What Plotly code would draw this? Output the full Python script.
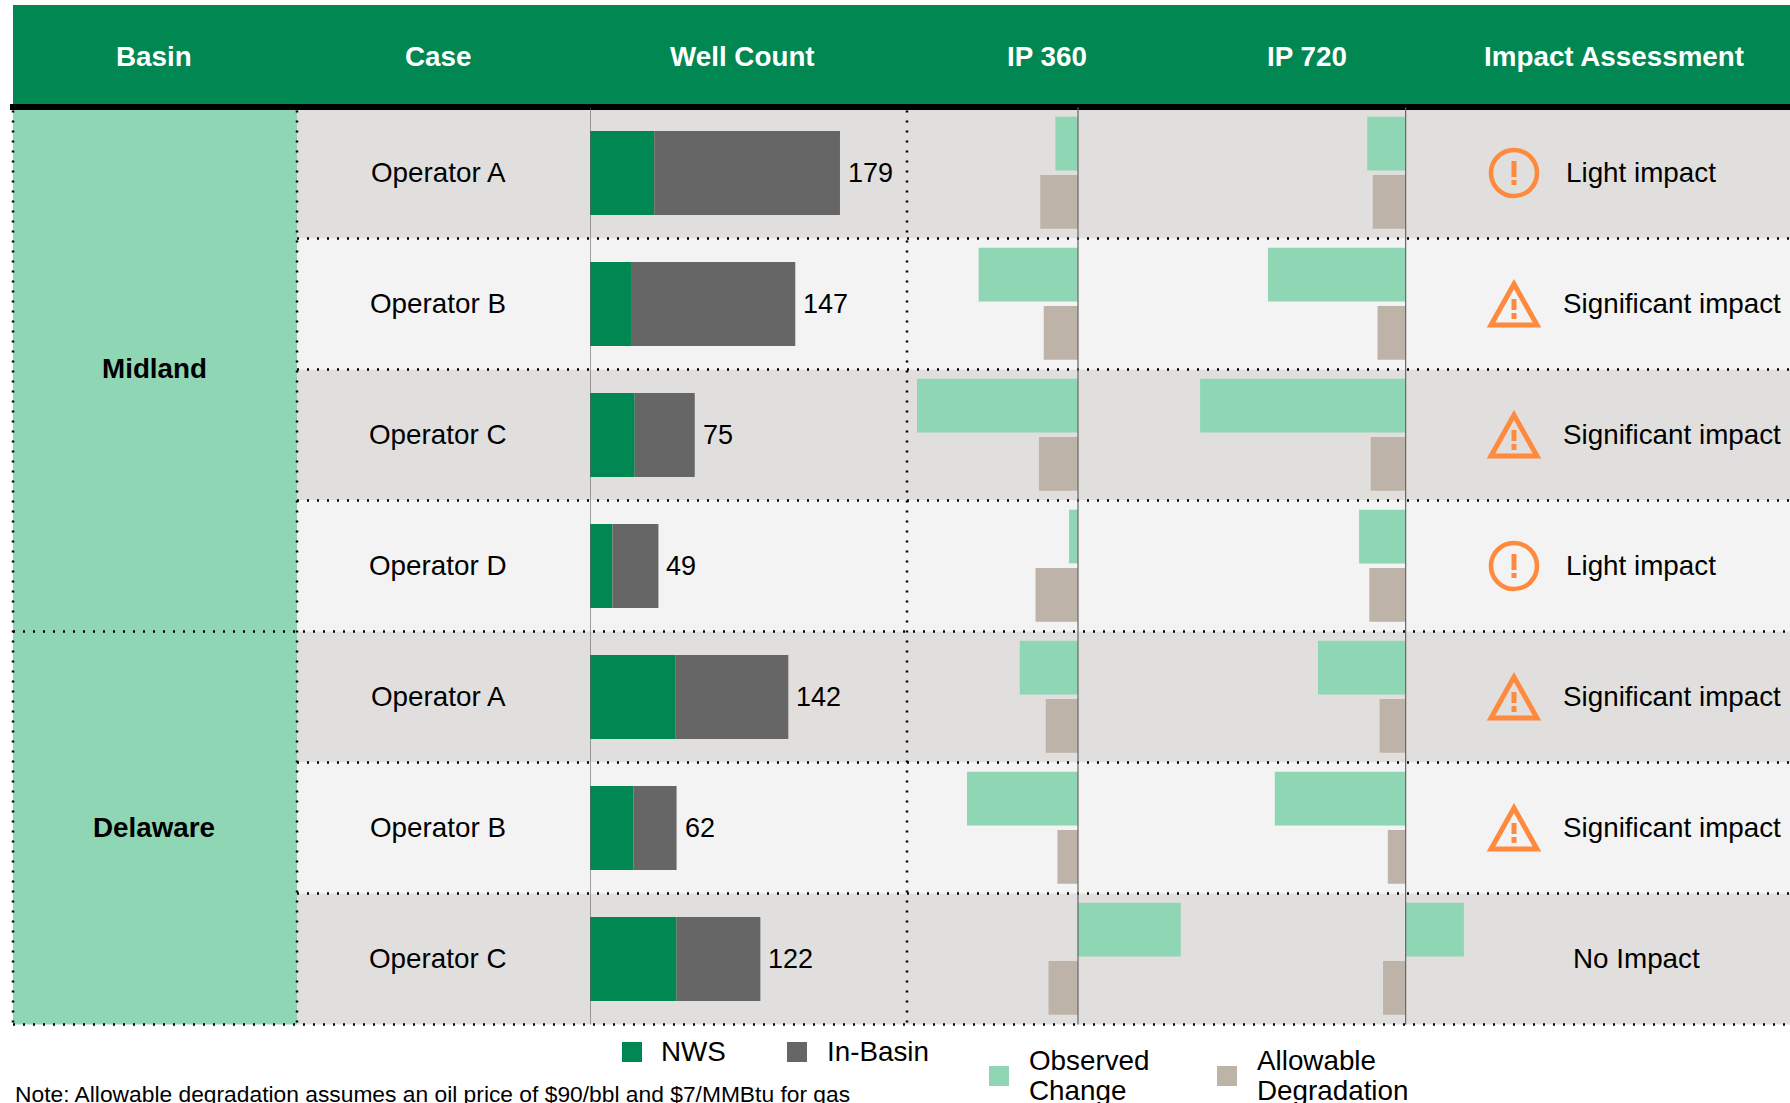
import plotly.graph_objects as go

W, H = 1790, 1103
FONT = "Liberation Sans"

# ---- data ----
headers = ["Basin", "Case", "Well Count", "IP 360", "IP 720", "Impact Assessment"]
basins = ["Midland", "Delaware"]
basin_rows = [1.5, 5.0]
cases = ["Operator A", "Operator B", "Operator C", "Operator D",
         "Operator A", "Operator B", "Operator C"]
rows = [0, 1, 2, 3, 4, 5, 6]
well_total = [179, 147, 75, 49, 142, 62, 122]
well_nws = [46, 30, 32, 16, 61, 31, 62]
well_inbasin = [133, 117, 43, 33, 81, 31, 60]
ip360_observed = [-3.3, -14.5, -23.5, -1.3, -8.5, -16.2, 15.0]
ip360_allowable = [-5.5, -5.0, -5.7, -6.2, -4.7, -3.0, -4.3]
ip720_observed = [-5.6, -20.1, -30.0, -6.8, -12.8, -19.1, 8.5]
ip720_allowable = [-4.8, -4.1, -5.1, -5.3, -3.8, -2.6, -3.3]
impact = ["Light impact", "Significant impact", "Significant impact", "Light impact",
          "Significant impact", "Significant impact", "No Impact"]

GREEN = "#008752"
MINT = "#8ED6B4"
DARK = "#666666"
TAN = "#BDB3A9"
ORANGE = "#FF8A3D"
BAND = ["#E0DFDD", "#F3F3F3"]
BODY = 27.8


def px(x):
    return x / W


def py(y):
    return 1 - y / H


TOP, BOTTOM = 107.5, 1024.5
shapes, ann = [], []


def paper_rect(x0, y0, x1, y1, color, layer="below"):
    shapes.append(dict(type="rect", xref="paper", yref="paper", x0=px(x0), x1=px(x1),
                       y0=py(y1), y1=py(y0), fillcolor=color, line_width=0, layer=layer))


def dotted(x0, y0, x1, y1):
    shapes.append(dict(type="line", xref="paper", yref="paper", x0=px(x0), x1=px(x1),
                       y0=py(y0), y1=py(y1), layer="above",
                       line=dict(color="#000000", width=2.5, dash="2px,8px")))


def label(text, xpos, ypos, size=BODY, color="#000000", bold=False, anchor="center", yref="y"):
    ann.append(dict(text=f"<b>{text}</b>" if bold else text, x=px(xpos), xref="paper",
                    y=ypos if yref == "y" else py(ypos), yref=yref, showarrow=False,
                    xanchor=anchor, yanchor="middle", borderpad=0, yshift=1 if yref == "y" else 0,
                    font=dict(family=FONT, size=size, color=color)))


# header and backgrounds
paper_rect(13, 5, W, 105, GREEN)
for r in rows:
    y0 = TOP + r * 131
    paper_rect(297, y0, W, y0 + 131, BAND[r % 2])
paper_rect(13, TOP, 297, BOTTOM, MINT)
paper_rect(10, 104, W, 110, "#000000", layer="above")

for text, c in zip(headers, [154, 438, 742, 1047, 1307, 1614]):
    label(text, c, 56, size=27.8, color="#FFFFFF", bold=True, yref="paper")

# dotted grid
for r in range(1, 8):
    y = TOP + r * 131
    dotted(13 if r in (4, 7) else 297, y, W, y)
for x in (13, 297, 907):
    dotted(x, TOP + 3, x, BOTTOM)

# axis rules at zero, drawn above the bars
for xref in ("x", "x2", "x3"):
    shapes.append(dict(type="line", xref=xref, yref="paper", x0=0, x1=0,
                       y0=py(BOTTOM), y1=py(TOP), layer="above",
                       line=dict(color="#666666", width=1.2)))

# text columns
for b, r in zip(basins, basin_rows):
    label(b, 154, r, bold=True)
for r, c in zip(rows, cases):
    label(c, 438, r)
for r, t in zip(rows, well_total):
    ann.append(dict(text=str(t), x=t, xref="x", y=r, yref="y", showarrow=False,
                    xanchor="left", yanchor="middle", xshift=7, yshift=0, borderpad=0,
                    font=dict(family=FONT, size=27, color="#000000")))

# impact column
for r, t in zip(rows, impact):
    if t == "Light impact":
        label(t, 1641, r)
        shapes.append(dict(type="circle", xsizemode="pixel", ysizemode="pixel",
                           xref="paper", yref="y", xanchor=px(1514), yanchor=r, layer="above",
                           x0=-23, x1=23, y0=-23, y1=23, fillcolor="rgba(0,0,0,0)",
                           line=dict(color=ORANGE, width=4.6)))
        paths = [("M-2.5,12 L2.5,12 L2.5,-4 L-2.5,-4 Z", 0, ORANGE),
                 ("M-2.5,-7 L2.5,-7 L2.5,-12 L-2.5,-12 Z", 0, ORANGE)]
    elif t == "Significant impact":
        label(t, 1672, r)
        paths = [("M0,20 L-23,-21 L23,-21 Z", 5, "rgba(0,0,0,0)"),
                 ("M-2.5,5 L2.5,5 L2.5,-6 L-2.5,-6 Z", 0, ORANGE),
                 ("M-2.5,-9 L2.5,-9 L2.5,-15 L-2.5,-15 Z", 0, ORANGE)]
    else:
        label(t, 1636, r)
        paths = []
    for p, w, fill in paths:
        shapes.append(dict(type="path", path=p, xsizemode="pixel", ysizemode="pixel",
                           xref="paper", yref="y", xanchor=px(1514), yanchor=r, layer="above",
                           fillcolor=fill, line=dict(color=ORANGE, width=w)))

# legends
for x, y, c in [(622, 1042, GREEN), (787, 1042, DARK), (989, 1066, MINT), (1217, 1066, TAN)]:
    paper_rect(x, y, x + 20, y + 20, c)
label("NWS", 660, 1051, anchor="left", yref="paper")
label("In-Basin", 826, 1051, anchor="left", yref="paper")
label("Observed", 1028, 1060, anchor="left", yref="paper")
label("Change", 1028, 1090, anchor="left", yref="paper")
label("Allowable", 1256, 1060, anchor="left", yref="paper")
label("Degradation", 1256, 1090, anchor="left", yref="paper")
label("Note: Allowable degradation assumes an oil price of $90/bbl and $7/MMBtu for gas",
      14, 1094, size=22.8, anchor="left", yref="paper")

fig = go.Figure()


def bars(vals, color, xaxis, offset, width, base=None):
    fig.add_trace(go.Bar(y=rows, x=vals, base=base, orientation="h", xaxis=xaxis, yaxis="y",
                         offset=offset, width=width, marker=dict(color=color, line_width=0),
                         showlegend=False))


bars(well_nws, GREEN, "x", -0.32, 0.64)
bars(well_inbasin, DARK, "x", -0.32, 0.64, base=well_nws)
bars(ip360_observed, MINT, "x2", -0.43, 0.41)
bars(ip360_allowable, TAN, "x2", 0.015, 0.41)
bars(ip720_observed, MINT, "x3", -0.43, 0.41)
bars(ip720_allowable, TAN, "x3", 0.015, 0.41)

axis = dict(showgrid=False, showticklabels=False, ticks="", showline=False,
            zeroline=False, anchor="y")
fig.update_layout(
    width=W, height=H, margin=dict(l=0, r=0, t=0, b=0), autosize=False,
    paper_bgcolor="#FFFFFF", plot_bgcolor="rgba(0,0,0,0)", barmode="overlay",
    font=dict(family=FONT), showlegend=False, shapes=shapes, annotations=ann,
    xaxis=dict(axis, domain=[px(590), px(907)], range=[0, 227]),
    xaxis2=dict(axis, domain=[px(907), px(1405)], range=[-24.96, 47.74]),
    xaxis3=dict(axis, domain=[px(1078), 1], range=[-47.83, 56.11]),
    yaxis=dict(domain=[py(BOTTOM), py(TOP)], range=[6.5, -0.5], visible=False, fixedrange=True),
)
fig.write_html("out.html", config=dict(displayModeBar=False),
               post_script="document.body.style.margin='0';document.body.style.overflow='hidden';")
